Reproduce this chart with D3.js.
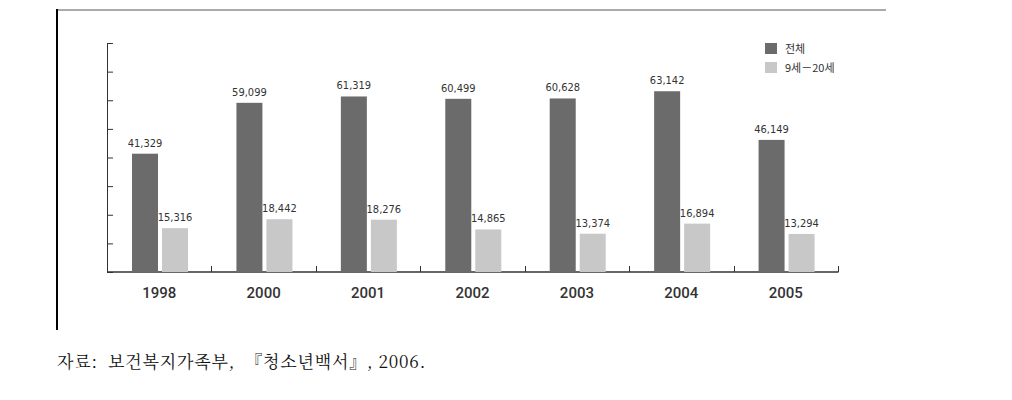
<!DOCTYPE html>
<html>
<head>
<meta charset="utf-8">
<script src="https://cdn.jsdelivr.net/npm/d3@7"></script>
<style>
  body { margin: 0; background: #fff; }
  svg { display: block; }
  .val { font-family: "DejaVu Sans Condensed", "Roboto", sans-serif; font-size: 11px; fill: #333; }
  .xlab { font-family: "Roboto", "Liberation Sans", sans-serif; font-weight: 500; font-size: 15px; fill: #333; }
  .leg { font-family: "Noto Sans CJK KR", sans-serif; font-size: 11px; fill: #333; }
  .src { font-family: "Noto Serif CJK KR", "Noto Sans CJK KR", serif; font-size: 17px; letter-spacing: 0.8px; fill: #111; white-space: pre; }
</style>
</head>
<body>
<script>
const years = ['1998', '2000', '2001', '2002', '2003', '2004', '2005']
const total = [41329, 59099, 61319, 60499, 60628, 63142, 46149]
const youth = [15316, 18442, 18276, 14865, 13374, 16894, 13294]
const seriesNames = ['전체', '9세－20세']
const yTicks = [0, 10000, 20000, 30000, 40000, 50000, 60000, 70000, 80000]

const colors = ['#6b6b6b', '#c8c8c8']

const svg = d3.select('body').append('svg')
  .attr('width', 1012)
  .attr('height', 400)

// frame
svg.append('line')
  .attr('x1', 56).attr('x2', 886).attr('y1', 10).attr('y2', 10)
  .attr('stroke', '#aaa').attr('stroke-width', 2)
svg.append('line')
  .attr('x1', 57).attr('x2', 57).attr('y1', 9).attr('y2', 330)
  .attr('stroke', '#000').attr('stroke-width', 2)

const x = d3.scaleBand()
  .domain(years)
  .range([107, 838])

const y = d3.scaleLinear()
  .domain([0, 80000])
  .range([272, 43])

const axisColor = '#333'

// y axis with inward ticks
const gy = svg.append('g')
  .attr('transform', 'translate(107,0)')
  .call(d3.axisRight(y).tickValues(yTicks).tickSize(6).tickFormat(''))
gy.select('.domain').attr('stroke', axisColor).attr('d', 'M6,43.5H0.5V272')
gy.selectAll('.tick line').attr('stroke', axisColor)

// x axis baseline and separators
svg.append('line')
  .attr('x1', 107).attr('x2', 838.5).attr('y1', 272).attr('y2', 272)
  .attr('stroke', axisColor).attr('stroke-width', 1.5)
const seps = years.map((d, i) => x(d) + x.bandwidth())
svg.selectAll('.sep')
  .data(seps)
  .enter().append('line')
    .attr('class', 'sep')
    .attr('x1', d => Math.round(d) + 0.5).attr('x2', d => Math.round(d) + 0.5)
    .attr('y1', 266).attr('y2', 272)
    .attr('stroke', axisColor)

const barW = 26
const offsets = [25, 55]
const groups = years.map((yr, i) => ({ yr, vals: [total[i], youth[i]] }))

const g = svg.selectAll('.grp')
  .data(groups)
  .enter().append('g')
    .attr('class', 'grp')
    .attr('transform', d => 'translate(' + x(d.yr) + ',0)')

g.selectAll('rect')
  .data(d => d.vals)
  .enter().append('rect')
    .attr('x', (v, i) => offsets[i])
    .attr('width', barW)
    .attr('y', v => y(v))
    .attr('height', v => y(0) - y(v))
    .attr('fill', (v, i) => colors[i])

g.selectAll('text.val')
  .data(d => d.vals)
  .enter().append('text')
    .attr('class', 'val')
    .attr('x', (v, i) => offsets[i] + barW / 2)
    .attr('y', v => y(v) - 7)
    .attr('text-anchor', 'middle')
    .text(v => d3.format(',')(v))

svg.selectAll('.xlab')
  .data(years)
  .enter().append('text')
    .attr('class', 'xlab')
    .attr('x', d => x(d) + x.bandwidth() / 2)
    .attr('y', 298)
    .attr('text-anchor', 'middle')
    .text(d => d)

// legend
const leg = svg.selectAll('.legend')
  .data(seriesNames)
  .enter().append('g')
    .attr('class', 'legend')
    .attr('transform', (d, i) => 'translate(765,' + (43 + i * 19) + ')')
leg.append('rect')
  .attr('width', 12).attr('height', 11)
  .attr('fill', (d, i) => colors[i])
leg.append('text')
  .attr('class', 'leg')
  .attr('x', 20).attr('y', 10)
  .text(d => d)

svg.append('text')
  .attr('class', 'src')
  .attr('x', 57).attr('y', 368)
  .text('자료:  보건복지가족부,  『청소년백서』, 2006.')
</script>
</body>
</html>
